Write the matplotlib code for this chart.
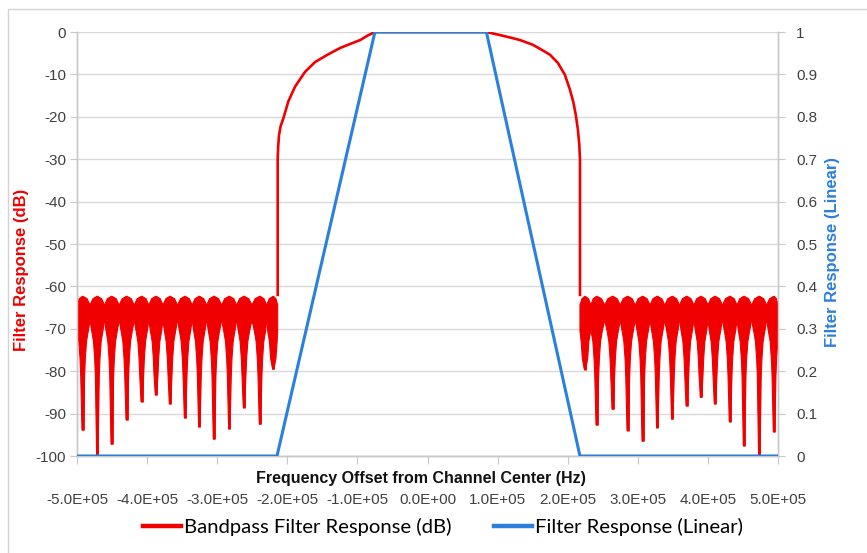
import matplotlib.pyplot as plt
from matplotlib.lines import Line2D

# Frequency offsets in kHz, responses in dB / linear
freq_ticks_khz = [-500, -400, -300, -200, -100, 0, 100, 200, 300, 400, 500]
freq_tick_labels = ['-5.0E+05', '-4.0E+05', '-3.0E+05', '-2.0E+05', '-1.0E+05', '0.0E+00',
                    '1.0E+05', '2.0E+05', '3.0E+05', '4.0E+05', '5.0E+05']
db_ticks = [0, -10, -20, -30, -40, -50, -60, -70, -80, -90, -100]
lin_ticks = [0, 0.1, 0.2, 0.3, 0.4, 0.5, 0.6, 0.7, 0.8, 0.9, 1]
lin_tick_labels = ['0', '0.1', '0.2', '0.3', '0.4', '0.5', '0.6', '0.7', '0.8', '0.9', '1']

# Passband / transition part of the bandpass response (dB)
pass_khz = [-213.7, -213.7, -213.0, -211.8, -209.5, -205.7, -198.6, -189, -174.7, -160.5,
            -142, -125, -110, -96, -85, -75,
            84, 100, 118, 132, 150, 164, 175, 186, 196, 203, 208, 211.5, 214.5, 216.5,
            217.5, 217.5]
pass_db = [-62, -29.8, -27.0, -24.3, -22.2, -20.4, -16.4, -12.9, -9.4, -7.1,
           -5.3, -3.8, -2.8, -1.9, -0.8, 0,
           0, -0.6, -1.3, -1.9, -3.0, -4.3, -5.4, -7.3, -10.1, -13.5, -16.5, -19.5, -23,
           -26.5, -30, -62]

# Stopband sidelobes: null position (kHz) and null depth (dB)
left_null_khz = [-491.9, -471, -450.5, -429.1, -407.7, -387.3, -367.3, -345.9, -325.5,
                 -304.6, -282.7, -261.8, -239, -220]
left_null_db = [-93.9, -99.8, -97.2, -91.5, -87.2, -85.6, -87.7, -91.0, -93.1,
                -96.0, -93.6, -88.6, -92.5, -79.5]
right_null_khz = [224.7, 241.4, 264.2, 285.6, 307, 327.8, 349.2, 369.8, 390.2,
                  410.1, 431.5, 451.5, 473.3, 494.3]
right_null_db = [-79.6, -92.7, -89.0, -94.0, -96.5, -93.3, -91.3, -88.2, -86.2,
                 -87.7, -91.9, -97.6, -100, -94.3]

# Linear filter response (trapezoid)
lin_khz = [-500, -214.7, -75, 84, 217.5, 500]
lin_val = [0, 0, 1, 1, 0, 0]

RED = '#f00000'
BLUE = '#2b80dc'
GRID = '#d9d9d9'
TICK_TXT = '#404040'

# sidelobe shape (dB levels and half widths in kHz of the tapered body)
PEAK, SHOULDER, NOTCH, BAND_BOTTOM = -62.3, -62.9, -64.4, -68.0
taper_db = [-70.5, -73, -77, -81]
taper_hw = [8.0, 5.5, 3.8, 2.8]

plt.rcParams['font.family'] = ['Liberation Sans', 'DejaVu Sans']
plt.rcParams['axes.unicode_minus'] = False
fig = plt.figure(figsize=(8.67, 5.53), dpi=100)
ax = fig.add_axes([77 / 867, 1 - 456 / 553, 701 / 867, 424 / 553])
ax2 = ax.twinx()


def draw_lobes(axis, nulls, depths, lo, hi):
    bounds = [lo] + [(a + b) / 2 for a, b in zip(nulls[:-1], nulls[1:])] + [hi]
    for i, (fc, d) in enumerate(zip(nulls, depths)):
        a, b = bounds[i], bounds[i + 1]
        xs = [a, fc - 0.6 * (fc - a), fc, fc + 0.6 * (b - fc), b, b]
        ys = [NOTCH, SHOULDER, PEAK, SHOULDER, NOTCH, BAND_BOTTOM]
        right = [(fc + min(w, b - fc), lv) for w, lv in zip(taper_hw, taper_db) if lv > d]
        left = [(fc - min(w, fc - a), lv) for w, lv in zip(taper_hw, taper_db) if lv > d]
        xs += [p[0] for p in right] + [fc + 1.0, fc - 1.0] + [p[0] for p in left[::-1]] + [a]
        ys += [p[1] for p in right] + [d, d] + [p[1] for p in left[::-1]] + [BAND_BOTTOM]
        axis.fill(xs, ys, color=RED, lw=0.8, zorder=3)
        axis.plot([fc, fc], [-75, d], color=RED, lw=2.0, zorder=3, solid_capstyle='butt')


draw_lobes(ax, left_null_khz, left_null_db, -500, -213.7)
draw_lobes(ax, right_null_khz, right_null_db, 217.5, 500)
ax.plot(pass_khz, pass_db, color=RED, lw=1.9, zorder=3)

ax2.plot(lin_khz, lin_val, color=BLUE, lw=2.2, zorder=4)

ax.set_xlim(-500, 500)
ax.set_ylim(-100, 0)
ax2.set_ylim(0, 1)
ax.set_yticks(db_ticks)
ax2.set_yticks(lin_ticks)
ax2.set_yticklabels(lin_tick_labels)
ax.set_xticks(freq_ticks_khz)
ax.set_xticklabels(freq_tick_labels)
ax.yaxis.grid(True, color=GRID, lw=1)
ax.set_axisbelow(True)

for a in (ax, ax2):
    a.spines['top'].set_visible(False)
    for side in ('left', 'right', 'bottom'):
        a.spines[side].set_color('#c8c8c8')
        a.spines[side].set_linewidth(1)
ax.tick_params(axis='y', length=5, color='#c8c8c8', labelsize=11, labelcolor=TICK_TXT, pad=3)
ax2.tick_params(axis='y', length=5, color='#c8c8c8', labelsize=11, labelcolor=TICK_TXT, pad=8)
ax.tick_params(axis='x', length=6, color='#c8c8c8', labelsize=11, labelcolor=TICK_TXT, pad=21)

narrow = ['Liberation Sans Narrow', 'Liberation Sans', 'DejaVu Sans']
fig.text(421 / 867, 1 - 479 / 553, 'Frequency Offset from Channel Center (Hz)', ha='center',
         va='center', fontsize=11.5, fontweight='bold', family=narrow, color='#111111')
fig.text(22 / 867, 1 - 270 / 553, 'Filter Response (dB)', rotation=90, ha='center', va='center',
         fontsize=12, fontweight='bold', family=narrow, color=RED)
fig.text(832 / 867, 1 - 252 / 553, 'Filter Response (Linear)', rotation=90, ha='center',
         va='center', fontsize=12, fontweight='bold', family=narrow, color=BLUE)

handles = [Line2D([], [], color=RED, lw=3.2), Line2D([], [], color=BLUE, lw=3.2)]
fig.legend(handles, ['Bandpass Filter Response (dB)', 'Filter Response (Linear)'],
           loc='center', bbox_to_anchor=(443 / 867, 1 - 527 / 553), ncol=2, frameon=False,
           handlelength=1.85, handletextpad=0.15, columnspacing=2.1,
           prop={'family': ['Lato', 'DejaVu Sans'], 'size': 14.6})

# light chart-area border (left and top edges)
fig.patches.append(plt.Rectangle((8 / 867, -0.05), 1.2, 1 - 9 / 553 + 0.05,
                                 transform=fig.transFigure, fill=False, ec='#d4d4d4', lw=1))

fig.savefig('out.png', dpi=100)
